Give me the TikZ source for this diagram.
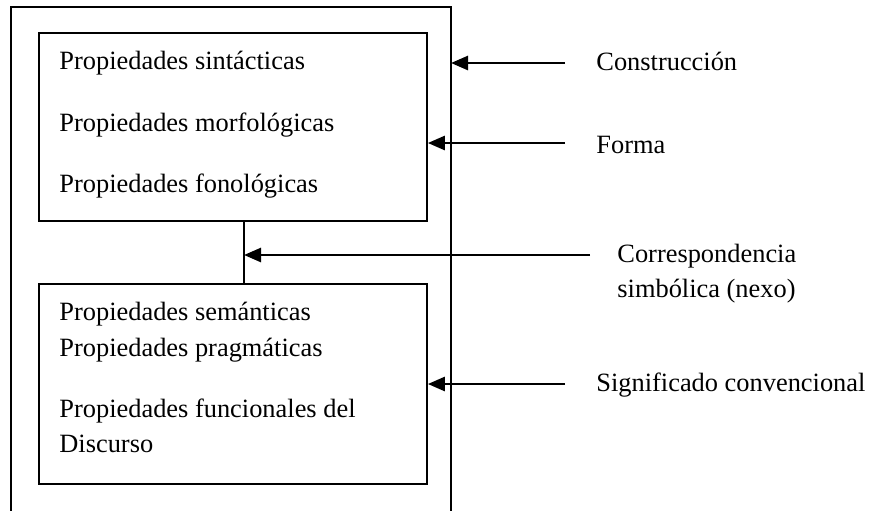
\documentclass[tikz,border=0pt]{standalone}
\usepackage{fontspec}
\setmainfont{Liberation Serif}
\usetikzlibrary{arrows.meta}
\begin{document}
\begin{tikzpicture}[x=0.5pt,y=-0.5pt,
  boxline/.style={line width=0.85pt},
  frameline/.style={line width=1pt},
  arr/.style={line width=1.3pt,-{Triangle[length=8.5pt,width=7pt]}},
  txt/.style={anchor=base west,inner sep=0pt,font=\fontsize{13.2}{15}\selectfont}]
\useasboundingbox (0,0) rectangle (879,510);
% outer frame (open at the bottom edge of the picture)
\coordinate (oTL) at (11,7);
\coordinate (oTR) at (451,7);
\coordinate (oBL) at (11,512);
\coordinate (oBR) at (451,512);
\draw[frameline] (oBL) -- (oTL) -- (oTR) -- (oBR);
% inner boxes
\node[boxline,draw,rectangle,minimum width=194pt,minimum height=94pt,inner sep=0pt] (upper) at (233,127) {};
\node[boxline,draw,rectangle,minimum width=194pt,minimum height=100pt,inner sep=0pt] (lower) at (233,384) {};
% link
\coordinate (lk1) at (244,221);
\coordinate (lk2) at (244,284);
\draw[boxline] (lk1) -- (lk2);
% box texts
\node[txt] (t1) at (59,69) {Propiedades sintácticas};
\node[txt] (t2) at (59,131) {Propiedades morfológicas};
\node[txt] (t3) at (59,192) {Propiedades fonológicas};
\node[txt] (t4) at (59,320) {Propiedades semánticas};
\node[txt] (t5) at (59,356) {Propiedades pragmáticas};
\node[txt] (t6) at (59,417) {Propiedades funcionales del};
\node[txt] (t7) at (59,452) {Discurso};
% labels
\node[txt] (l1) at (596,70) {Construcción};
\node[txt] (l2) at (596,153) {Forma};
\node[txt] (l3) at (617,262) {Correspondencia};
\node[txt] (l3b) at (617,297) {simbólica (nexo)};
\node[txt] (l4) at (596,391) {Significado convencional};
% arrows
\coordinate (a1) at (565,63);
\coordinate (a2) at (565,143);
\coordinate (a3) at (590,255);
\coordinate (a4) at (565,384);
\draw[arr] (a1) -- (a1 -| oTR);
\draw[arr] (a2) -- (a2 -| upper.east);
\draw[arr] (a3) -- (a3 -| lk1);
\draw[arr] (a4) -- (a4 -| lower.east);
\end{tikzpicture}
\end{document}
